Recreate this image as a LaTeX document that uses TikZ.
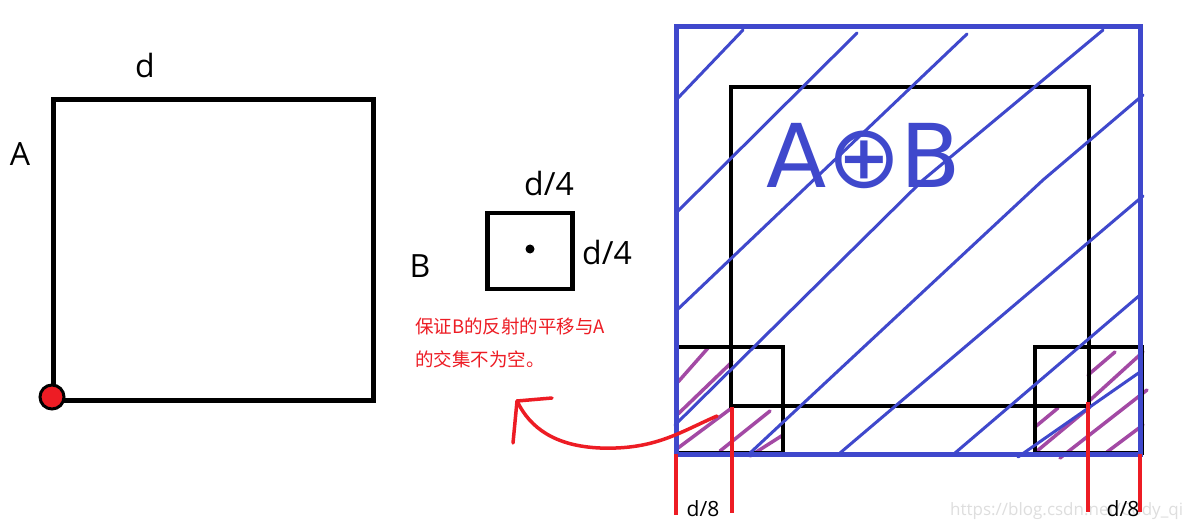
\documentclass[tikz,border=0pt]{standalone}
\usepackage{fontspec}
\setmainfont{Open Sans}
\newfontfamily\cjkfont{Noto Sans CJK SC}
\newfontfamily\symfont{DejaVu Sans}
\definecolor{pblue}{HTML}{3F48CC}
\definecolor{ppurple}{HTML}{A349A4}
\definecolor{pred}{HTML}{ED1C24}
\begin{document}
\begin{tikzpicture}[x=1pt,y=-1pt,
  blk/.style={draw=black,line width=4.5pt},
  hatch/.style={draw=pblue,line width=3pt,line cap=round,line join=round},
  phatch/.style={draw=ppurple,line width=3.5pt,line cap=round},
  redline/.style={draw=pred,line width=4pt},
  lbl/.style={font=\fontsize{32}{38}\selectfont,anchor=base,inner sep=0pt},
  smalllbl/.style={font=\fontsize{21}{25}\selectfont,anchor=base,inner sep=0pt},
  note/.style={font=\cjkfont\fontsize{18.5}{22}\selectfont,text=pred,anchor=base west,inner sep=0pt},
]
\useasboundingbox (0,0) rectangle (1182,529);
\fill[white] (0,0) rectangle (1182,529);

% ---- square A ----
\node[blk,minimum width=320pt,minimum height=300.5pt,inner sep=0pt,anchor=north west] (sqA) at (51,97.5) {};
\node[circle,fill=pred,draw=black,line width=3pt,minimum size=24pt,inner sep=0pt] (dotA) at (52,397) {};
\node[lbl] (labd) at (145,78) {d};
\node[lbl] (labA) at (20,166) {A};

% ---- square B ----
\node[blk,minimum width=85pt,minimum height=75.5pt,inner sep=0pt,anchor=north west] (sqB) at (485,211) {};
\node[circle,fill=black,minimum size=9pt,inner sep=0pt] (dotB) at (530,249) {};
\node[lbl] (labB) at (420,277) {B};
\node[lbl] (labdtop) at (549,196) {d/4};
\node[lbl] (labdright) at (607,265) {d/4};

% ---- red note ----
\node[note] (note1) at (415,333) {保证B的反射的平移与A};
\node[note] (note2) at (415,366) {的交集不为空。};

% ---- watermark ----
\node[font=\fontsize{17}{20}\selectfont,text=black!13,anchor=base west,inner sep=0pt] (wm) at (950,515) {https://blog.csdn.net/Cody\_qing};

% ---- purple hatching ----
\draw[phatch] (678,382) -- (708,348);
\draw[phatch] (678,414) -- (732,362);
\draw[phatch] (678,448) -- (733,407);
\draw[phatch] (720,451) -- (770,411);
\draw[phatch] (750,456) -- (783,435);
\draw[phatch] (1035,427) -- (1058,408);
\draw[phatch] (1088,375) -- (1115,352);
\draw[phatch] (1088,402) -- (1143,352);
\draw[phatch] (1037,451) -- (1090,407);
\draw[phatch] (1060,458) -- (1147,390);
\draw[phatch] (1107,452) -- (1143,425);

% ---- black rectangles ----
\draw[blk] (731,87) rectangle (1089,406);
\draw[blk] (676,347) rectangle (783,453);
\draw[blk] (1035,347) rectangle (1142,453);

% ---- blue hatching ----
\draw[hatch] (678,98) -- (743,30);
\draw[hatch] (677,212) -- (857,33);
\draw[hatch] (677,310) -- (967,34);
\draw[hatch] (675,425) -- (763,338) -- (923,180) -- (1103,30);
\draw[hatch] (750,453) -- (1043,180) -- (1143,95);
\draw[hatch] (840,453) -- (1143,196);
\draw[hatch] (955,453) -- (1140,295);
\draw[hatch] (1018,457) -- (1140,372);

% ---- blue border ----
\draw[draw=pblue,line width=5pt] (676,27) rectangle (1140,454);

% ---- A (+) B ----
\node[font=\symfont\fontsize{88}{100}\selectfont,text=pblue,anchor=base,inner sep=0pt] (aob) at (864,188) {A⊕B};

% ---- red dimension lines ----
\draw[redline] (676,454) -- (676,515);
\draw[redline] (732,407) -- (732,513);
\draw[redline] (1088,402) -- (1088,512);
\draw[redline] (1140,454) -- (1140,512);
\node[smalllbl] (d8left) at (703,516) {d/8};
\node[smalllbl] (d8right) at (1123,516) {d/8};

% ---- red arrow ----
\coordinate (arrS) at (717,416);
\coordinate (arrT) at (517,401);
\draw[redline,line width=3.5pt,line cap=round,line join=round]
  (arrS) .. controls (680,432) and (655,450) .. (600,448)
         .. controls (555,446) and (530,428) .. (arrT);
\draw[redline,line width=3.5pt,line cap=round,line join=round]
  (513,443) -- (arrT) -- (552,398);
\end{tikzpicture}
\end{document}
